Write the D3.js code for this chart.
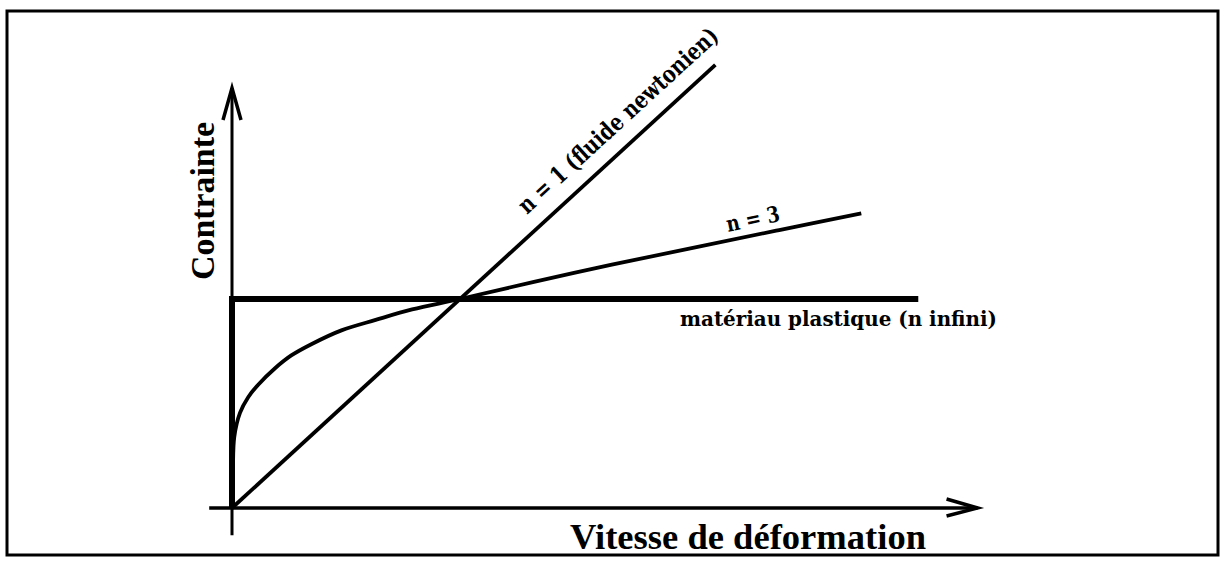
<!DOCTYPE html>
<html>
<head>
<meta charset="utf-8">
<script src="https://cdn.jsdelivr.net/npm/d3@7"></script>
<style>
  body { margin: 0; background: #fff; }
</style>
</head>
<body>
<div id="chart"></div>
<script>
// Contrainte / vitesse de deformation : trois lois d'ecoulement

// points (unit = crossing point of the three laws)
const newtonien = [[0, 0], [2.12, 2.12]];
const nTrois = [[0, 0], [0.004, 0.18], [0.01, 0.34], [0.035, 0.455], [0.071, 0.53],
                [0.115, 0.59], [0.19, 0.67], [0.26, 0.73], [0.35, 0.785], [0.48, 0.85],
                [0.63, 0.90], [0.79, 0.95], [1, 1], [1.5, 1.125], [2.0, 1.24],
                [2.4, 1.33], [2.76, 1.41]];
const plastique = [[0, 0], [0, 1], [3.01, 1]];
const xExtent = [-0.1, 3.27];
const yExtent = [-0.13, 2.01];

const xTitle = "Vitesse de déformation";
const yTitle = "Contrainte";
const labelN1 = "n = 1 (fluide newtonien)";
const labelN3 = "n = 3";
const labelPlast = "matériau plastique (n infini)";

const width = 1225,
      height = 564;

let svg = d3.select("#chart")
    .append("svg")
    .attr("width", width)
    .attr("height", height)
    .attr("viewBox", [0, 0, width, height]);

let x = d3.scaleLinear()
    .domain([0, 1])
    .range([232, 460]);

let y = d3.scaleLinear()
    .domain([0, 1])
    .range([508, 299]);

// frame
svg.append("rect")
    .attr("x", 7)
    .attr("y", 11)
    .attr("width", 1211)
    .attr("height", 544)
    .attr("fill", "none")
    .attr("stroke", "#000")
    .attr("stroke-width", 3);

const line = d3.line()
    .x(d => x(d[0]))
    .y(d => y(d[1]));

// axes
svg.append("line")
    .attr("x1", x(xExtent[0])).attr("x2", x(xExtent[1]))
    .attr("y1", y(0)).attr("y2", y(0))
    .attr("stroke", "#000").attr("stroke-width", 3.5);

svg.append("line")
    .attr("x1", x(0)).attr("x2", x(0))
    .attr("y1", y(yExtent[0])).attr("y2", y(yExtent[1]))
    .attr("stroke", "#000").attr("stroke-width", 3);

// arrow heads (open chevrons)
const xt = x(xExtent[1]), yt = y(0);
svg.append("path")
    .attr("d", `M${xt - 31},${yt - 9}L${xt},${yt}L${xt - 31},${yt + 8}`)
    .attr("fill", "none").attr("stroke", "#000")
    .attr("stroke-width", 3.5).attr("stroke-linejoin", "miter");

const ax = x(0), ay = y(yExtent[1]);
svg.append("path")
    .attr("d", `M${ax - 9},${ay + 32}L${ax},${ay}L${ax + 9},${ay + 32}`)
    .attr("fill", "none").attr("stroke", "#000")
    .attr("stroke-width", 3.5).attr("stroke-linejoin", "miter");

// curves
svg.append("path")
    .datum(plastique)
    .attr("d", line)
    .attr("fill", "none")
    .attr("stroke", "#000")
    .attr("stroke-width", 6);

svg.append("path")
    .datum(newtonien)
    .attr("d", line)
    .attr("fill", "none")
    .attr("stroke", "#000")
    .attr("stroke-width", 3.8);

svg.append("path")
    .datum(nTrois)
    .attr("d", line.curve(d3.curveCatmullRom.alpha(0.5)))
    .attr("fill", "none")
    .attr("stroke", "#000")
    .attr("stroke-width", 3.8);

// titles
svg.append("text")
    .attr("transform", `translate(214,201) rotate(-90)`)
    .attr("text-anchor", "middle")
    .attr("font-family", "'Liberation Serif', serif")
    .attr("font-weight", "bold")
    .attr("font-size", 34)
    .attr("textLength", 158)
    .attr("lengthAdjust", "spacingAndGlyphs")
    .text(yTitle);

svg.append("text")
    .attr("x", 570)
    .attr("y", 549)
    .attr("font-family", "'Liberation Serif', serif")
    .attr("font-weight", "bold")
    .attr("font-size", 35)
    .attr("textLength", 356)
    .attr("lengthAdjust", "spacingAndGlyphs")
    .text(xTitle);

// curve labels
const labelFont = "'DejaVu Serif', serif";

svg.append("text")
    .attr("transform", `translate(527,215) rotate(-42.5)`)
    .attr("font-family", labelFont)
    .attr("font-weight", "bold")
    .attr("font-size", 24)
    .attr("textLength", 262)
    .attr("lengthAdjust", "spacingAndGlyphs")
    .text(labelN1);

svg.append("text")
    .attr("transform", `translate(728,232) rotate(-12)`)
    .attr("font-family", labelFont)
    .attr("font-weight", "bold")
    .attr("font-size", 22)
    .attr("textLength", 54)
    .attr("lengthAdjust", "spacingAndGlyphs")
    .text(labelN3);

svg.append("text")
    .attr("x", 680)
    .attr("y", 326)
    .attr("font-family", labelFont)
    .attr("font-weight", "bold")
    .attr("font-size", 21)
    .attr("textLength", 317)
    .attr("lengthAdjust", "spacingAndGlyphs")
    .text(labelPlast);
</script>
</body>
</html>
